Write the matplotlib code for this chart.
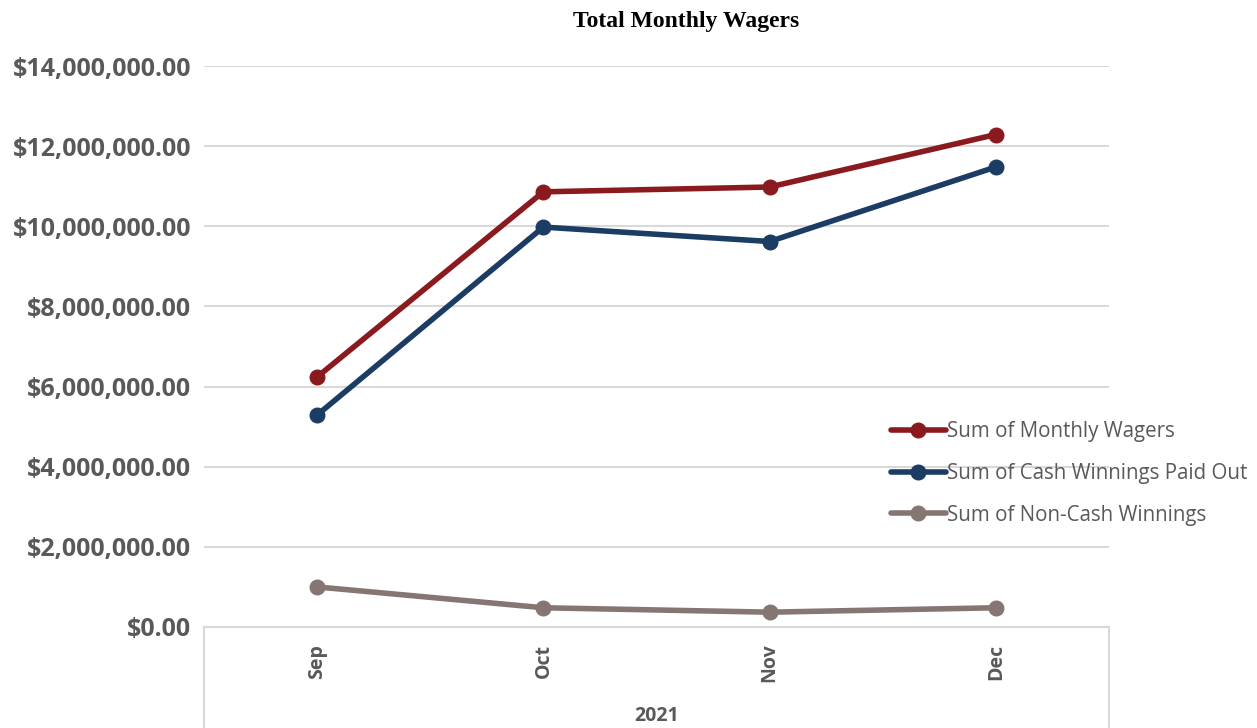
import matplotlib
matplotlib.use("Agg")
import matplotlib.pyplot as plt
from matplotlib.lines import Line2D
from matplotlib.ticker import FuncFormatter

months = ["Sep", "Oct", "Nov", "Dec"]
year_label = "2021"
wagers = [6240000, 10860000, 10980000, 12290000]
cash_winnings = [5290000, 9980000, 9620000, 11480000]
noncash_winnings = [1000000, 480000, 370000, 480000]
series_names = ["Sum of Monthly Wagers", "Sum of Cash Winnings Paid Out", "Sum of Non-Cash Winnings"]
colors = ["#8B1A1F", "#1B3C63", "#857672"]
title = "Total Monthly Wagers"

fig = plt.figure(figsize=(12.57, 7.28), dpi=100)
ax = fig.add_axes([204/1257, 1-627/728, (1109-204)/1257, (627-66)/728])

x = list(range(len(months)))
handles = []
for vals, name, c in zip([wagers, cash_winnings, noncash_winnings], series_names, colors):
    h, = ax.plot(x, vals, color=c, lw=4, marker="o", markersize=10.5, label=name,
                 solid_capstyle="round", zorder=3)
    handles.append(h)

ax.set_xlim(-0.5, len(months) - 0.5)
ax.set_ylim(0, 14000000)
ax.set_yticks(range(0, 14000001, 2000000))
ax.yaxis.set_major_formatter(FuncFormatter(lambda v, p: f"${v:,.2f}"))
ax.grid(axis="y", color="#D9D9D9", lw=1.5)
ax.set_axisbelow(True)
for s in ["top", "right", "left"]:
    ax.spines[s].set_visible(False)
ax.spines["bottom"].set_color("#D9D9D9")
ax.spines["bottom"].set_linewidth(1.5)
ax.tick_params(axis="both", length=0)
ax.tick_params(axis="y", pad=9)
for lab in ax.get_yticklabels():
    lab.set_fontfamily("Open Sans")
    lab.set_fontweight("bold")
    lab.set_fontsize(18)
    lab.set_color("#595959")

ax.set_xticks(x)
ax.set_xticklabels(months, rotation=90, fontfamily="Open Sans", fontweight="bold",
                   fontsize=14, color="#595959")
ax.tick_params(axis="x", pad=12)

# category group box
for xx in (0, 1):
    ax.add_line(Line2D([xx, xx], [0, -101/561], transform=ax.transAxes, color="#D9D9D9",
                       lw=1.5, clip_on=False))
ax.text(0.5, -89/561, year_label, transform=ax.transAxes, ha="center", va="center",
        fontfamily="Open Sans", fontweight="bold", fontsize=14, color="#595959")

fig.text(686/1257, 1-22/728, title, ha="center", va="center", fontfamily="Liberation Serif",
         fontweight="bold", fontsize=17, color="#000000")

leg = fig.legend(handles=handles, loc="upper left", bbox_to_anchor=(872/1257, 1-403/728),
                 frameon=False, handlelength=2.7, handletextpad=0.05, labelspacing=1.0,
                 prop={"family": "Open Sans", "size": 14.8})
for t in leg.get_texts():
    t.set_color("#595959")

fig.savefig("out.png", dpi=100)
